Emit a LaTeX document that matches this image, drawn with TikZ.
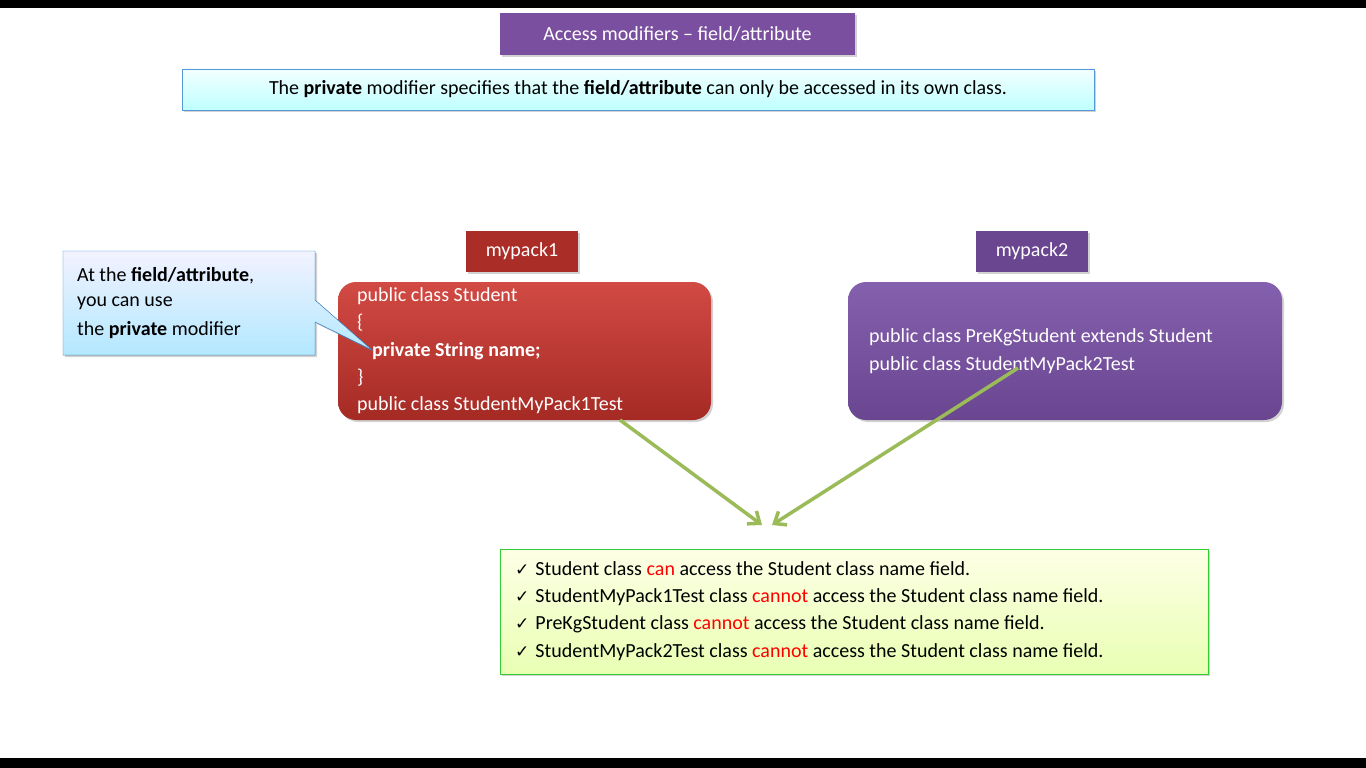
\documentclass[tikz,border=0pt]{standalone}
\usepackage{fontspec}
\setmainfont{Carlito}
\newfontfamily\symf{DejaVu Sans}
\usetikzlibrary{shadows}
\definecolor{ttl}{HTML}{7B4FA0}
\definecolor{redA}{HTML}{D24A44}
\definecolor{redB}{HTML}{A52A24}
\definecolor{purA}{HTML}{8560AE}
\definecolor{purB}{HTML}{6A4590}
\definecolor{arr}{HTML}{9BBB59}
\definecolor{cnt}{HTML}{FF0000}
\tikzset{
  lbl/.style={font=\fontsize{20}{24}\selectfont, text=white, inner sep=0pt},
  txt/.style={font=\fontsize{20}{24}\selectfont, anchor=west, inner sep=0pt},
  shad/.style={drop shadow={shadow xshift=2pt,shadow yshift=-2pt,opacity=0.35}},
  garrow/.style={draw=arr, line width=3.5pt, -{Straight Barb[length=10pt,width=16pt]}}
}
\usetikzlibrary{arrows.meta}
\begin{document}
\begin{tikzpicture}[x=1pt,y=-1pt]
\useasboundingbox (0,0) rectangle (1366,768);
\fill[white] (0,0) rectangle (1366,768);
\fill[black] (0,0) rectangle (1366,8);
\fill[black] (0,758) rectangle (1366,768);
% title
\node[shad, fill=ttl, minimum width=355pt, minimum height=42pt, lbl] (title) at (677.5,34) {Access modifiers -- field/attribute};
% info
\node[shad, draw=cyan!60!blue!70, top color=cyan!5, bottom color=cyan!25, minimum width=912pt, minimum height=41pt, font=\fontsize{20}{24}\selectfont] (info) at (638,89.5) {The \textbf{private} modifier specifies that the \textbf{field/attribute} can only be accessed in its own class.};
% pack labels
\node[shad, fill=redB!90!redA, minimum width=112pt, minimum height=41pt, lbl] (p1) at (522,251.5) {mypack1};
\node[shad, fill=purB, minimum width=112pt, minimum height=41pt, lbl] (p2) at (1032,251.5) {mypack2};
% red box
\node[shad, rounded corners=18pt, top color=redA, bottom color=redB, minimum width=373pt, minimum height=138pt] (rb) at (524.5,351) {};
\begin{scope}[every node/.style={txt, text=white}]
\node (r1) at (357,296) {public class Student};
\node (r2) at (357,323) {\{};
\node (r3) at (372,351) {\textbf{private String name;}};
\node (r4) at (357,378) {\}};
\node (r5) at (357,405) {public class StudentMyPack1Test};
\end{scope}
% purple box
\node[shad, rounded corners=18pt, top color=purA, bottom color=purB, minimum width=434pt, minimum height=138pt] (pb) at (1065,351) {};
\node[txt, text=white] (q1) at (869,337) {public class PreKgStudent extends Student};
\node[txt, text=white] (q2) at (869,365) {public class StudentMyPack2Test};
% callout
\coordinate (tip) at (372,350);
\filldraw[shad, draw=blue!50!cyan!60!gray, top color=blue!5, bottom color=blue!30!cyan!30] (63,251) -- (315,251) -- (315,300) -- (tip) -- (315,322) -- (315,355) -- (63,355) -- cycle;
\node[txt] (c1) at (77,276) {At the \textbf{field/attribute},};
\node[txt] (c2) at (77,303) {you can use};
\node[txt] (c3) at (77,330) {the \textbf{private} modifier};
% green box
\node[shad, draw=green!60!gray, top color=green!3!yellow!10, bottom color=green!30!yellow!30, minimum width=708pt, minimum height=125pt] (gb) at (854,611.5) {};
\coordinate (t1) at (762,525);
\coordinate (t2) at (772,525);
\coordinate (s1) at (620,420);
\coordinate (s2) at (1018,368);
\draw[garrow] (s1) -- (t1);
\draw[garrow] (s2) -- (t2);
\begin{scope}[every node/.style={txt}]
\node (g1) at (515,569) {{\symf\fontsize{17}{20}\selectfont ✓}\hspace{6pt}Student class \textcolor{cnt}{can} access the Student class name field.};
\node (g2) at (515,597) {{\symf\fontsize{17}{20}\selectfont ✓}\hspace{6pt}StudentMyPack1Test class \textcolor{cnt}{cannot} access the Student class name field.};
\node (g3) at (515,624) {{\symf\fontsize{17}{20}\selectfont ✓}\hspace{6pt}PreKgStudent class \textcolor{cnt}{cannot} access the Student class name field.};
\node (g4) at (515,652) {{\symf\fontsize{17}{20}\selectfont ✓}\hspace{6pt}StudentMyPack2Test class \textcolor{cnt}{cannot} access the Student class name field.};
\end{scope}
\end{tikzpicture}
\end{document}
